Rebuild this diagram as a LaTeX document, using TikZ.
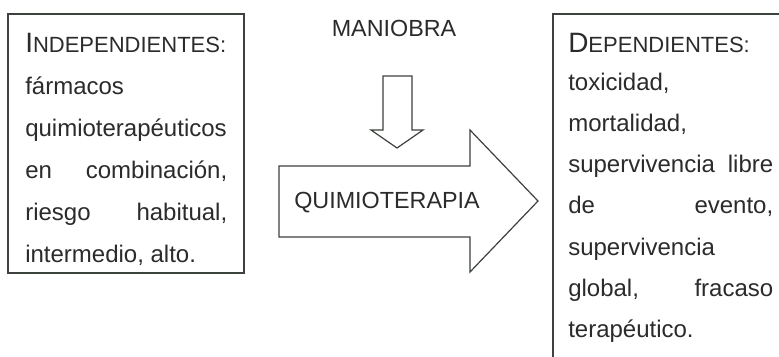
\documentclass[tikz,border=0pt]{standalone}
\usepackage{fontspec}
\setmainfont{Liberation Sans}
\definecolor{ink}{HTML}{2B2B2B}
\definecolor{edge}{HTML}{3C423C}
\tikzset{
  txt/.style={anchor=base west, inner sep=0pt, text=ink, font=\fontsize{18}{20}\selectfont},
  lbl/.style={anchor=center, inner sep=0pt, text=ink, font=\fontsize{17.5}{20}\selectfont},
  frame/.style={draw=edge, line width=0.9pt},
  shapeline/.style={draw=edge, line width=0.9pt, line join=miter, fill=white}
}
\newcommand\bigC[1]{{\fontsize{21}{21}\selectfont #1}}
\newcommand\smC[1]{{\fontsize{16.5}{18}\selectfont #1}}
\newcommand\jl[2]{\makebox[#1][s]{#2}}
\begin{document}
\begin{tikzpicture}[x=0.75pt,y=-0.75pt]
\clip (0,0) rectangle (779,357);
\fill[white] (0,0) rectangle (779,357);
% boxes
\draw[frame] (8,14) rectangle (244,273);
\draw[frame] (553,14) rectangle (800,380);
% left text
\node[txt] (l0) at (25,52) {\bigC{I}\smC{NDEPENDIENTES:}};
\node[txt] (l1) at (25,94) {fármacos};
\node[txt] (l2) at (25,136) {quimioterapéuticos};
\node[txt] (l3) at (25,178) {\jl{151.5pt}{en combinación,}};
\node[txt] (l4) at (25,220) {\jl{151.5pt}{riesgo habitual,}};
\node[txt] (l5) at (25,262) {intermedio, alto.};
% right text
\node[txt] (r0) at (568,52) {\bigC{D}\smC{EPENDIENTES:}};
\node[txt] (r1) at (568,90) {toxicidad,};
\node[txt] (r2) at (568,131.3) {mortalidad,};
\node[txt] (r3) at (568,172.6) {\jl{153.75pt}{supervivencia libre}};
\node[txt] (r4) at (568,213.9) {\jl{153.75pt}{de evento,}};
\node[txt] (r5) at (568,255.2) {supervivencia};
\node[txt] (r6) at (568,296.5) {\jl{153.75pt}{global, fracaso}};
\node[txt] (r7) at (568,337.8) {terapéutico.};
% middle
\node[lbl] (man) at (394,28) {MANIOBRA};
\draw[shapeline] (383,76) -- (412,76) -- (412,130) -- (423,130) -- (397,148) -- (371,130) -- (383,130) -- cycle;
\draw[shapeline] (279,166) -- (470,166) -- (470,130) -- (538,201) -- (470,272) -- (470,237) -- (279,237) -- cycle;
\node[lbl] (qt) at (387,203) {QUIMIOTERAPIA};
\end{tikzpicture}
\end{document}
